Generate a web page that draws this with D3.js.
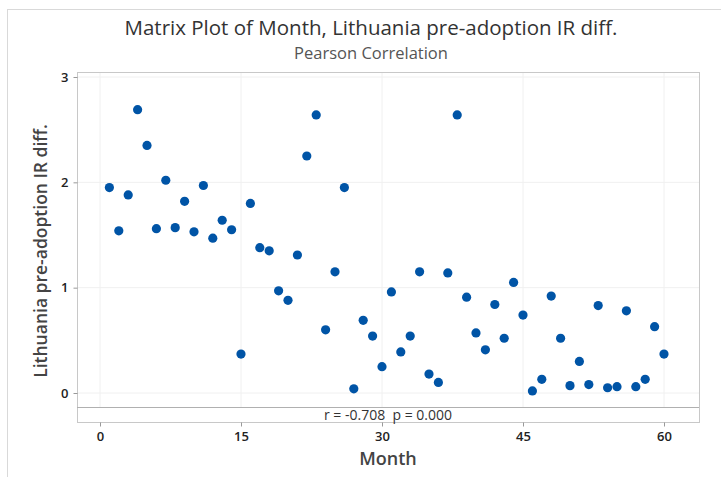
<!DOCTYPE html>
<html>
<head>
<meta charset="utf-8">
<script src="https://cdn.jsdelivr.net/npm/d3@7"></script>
<style>
  body { margin: 0; background: #fff; }
  text { font-family: "Open Sans", "Noto Sans", sans-serif; }
</style>
</head>
<body>
<div id="chart"></div>
<script>
// Data
const months = d3.range(1, 61);
const irDiff = [
  1.95, 1.54, 1.88, 2.69, 2.35, 1.56, 2.02, 1.57, 1.82, 1.53,
  1.97, 1.47, 1.64, 1.55, 0.37, 1.80, 1.38, 1.35, 0.97, 0.88,
  1.31, 2.25, 2.64, 0.60, 1.15, 1.95, 0.04, 0.69, 0.54, 0.25,
  0.96, 0.39, 0.54, 1.15, 0.18, 0.10, 1.14, 2.64, 0.91, 0.57,
  0.41, 0.84, 0.52, 1.05, 0.74, 0.02, 0.13, 0.92, 0.52, 0.07,
  0.30, 0.08, 0.83, 0.05, 0.06, 0.78, 0.06, 0.13, 0.63, 0.37
];
const xTicks = [0, 15, 30, 45, 60];
const yTicks = [0, 1, 2, 3];
const annotation = 'r = -0.708  p = 0.000';

const data = months.map((m, i) => ({ month: m, value: irDiff[i] }));

const W = 721, H = 477;
// plot frame
const frame = { left: 77, right: 699, top: 72, sep: 407, bottom: 422 };

const svg = d3.select('#chart').append('svg')
  .attr('width', W)
  .attr('height', H);

// outer graph border
svg.append('rect')
  .attr('x', 7.5).attr('y', 9.5)
  .attr('width', 740).attr('height', 480)
  .attr('fill', 'none')
  .attr('stroke', '#d9d9d9');

// scales
const x = d3.scaleLinear().domain([0, 60]).range([100, 664]);
const y = d3.scaleLinear().domain([0, 3]).range([393, 77]);

// gridlines
svg.append('g')
  .selectAll('line')
  .data(xTicks)
  .enter().append('line')
  .attr('x1', d => x(d)).attr('x2', d => x(d))
  .attr('y1', frame.top).attr('y2', frame.sep)
  .attr('stroke', '#f0f0f0');

svg.append('g')
  .selectAll('line')
  .data(yTicks)
  .enter().append('line')
  .attr('x1', frame.left).attr('x2', frame.right)
  .attr('y1', d => y(d)).attr('y2', d => y(d))
  .attr('stroke', '#f0f0f0');

// frame + annotation separator
svg.append('rect')
  .attr('x', frame.left + 0.5).attr('y', frame.top + 0.5)
  .attr('width', frame.right - frame.left).attr('height', frame.bottom - frame.top)
  .attr('fill', 'none')
  .attr('stroke', '#c8c8c8');

svg.append('line')
  .attr('x1', frame.left).attr('x2', frame.right)
  .attr('y1', frame.sep + 0.5).attr('y2', frame.sep + 0.5)
  .attr('stroke', '#b0b0b0');

// axes
const xAxis = d3.axisBottom(x).tickValues(xTicks).tickFormat(d3.format('d')).tickSize(4).tickPadding(5);
const yAxis = d3.axisLeft(y).tickValues(yTicks).tickFormat(d3.format('d')).tickSize(4).tickPadding(5);

svg.append('g')
  .attr('class', 'x axis')
  .attr('transform', `translate(0, ${frame.bottom + 0.5})`)
  .call(xAxis)
  .call(g => g.select('.domain').remove())
  .call(g => g.selectAll('line').attr('stroke', '#999'))
  .call(g => g.selectAll('text')
    .attr('fill', '#222').attr('font-size', 13).attr('font-weight', 600)
    .style('font-family', '"Open Sans", sans-serif'));

svg.append('g')
  .attr('class', 'y axis')
  .attr('transform', `translate(${frame.left + 0.5}, 0)`)
  .call(yAxis)
  .call(g => g.select('.domain').remove())
  .call(g => g.selectAll('line').attr('stroke', '#999'))
  .call(g => g.selectAll('text')
    .attr('fill', '#222').attr('font-size', 13).attr('font-weight', 600)
    .style('font-family', '"Open Sans", sans-serif'));

// points
svg.append('g')
  .selectAll('circle')
  .data(data)
  .enter().append('circle')
  .attr('cx', d => x(d.month))
  .attr('cy', d => y(d.value))
  .attr('r', 4.6)
  .attr('fill', '#0054a6');

// annotation
svg.append('text')
  .attr('x', (frame.left + frame.right) / 2)
  .attr('y', 420)
  .attr('text-anchor', 'middle')
  .attr('font-size', 14)
  .attr('fill', '#333')
  .attr('xml:space', 'preserve')
  .text(annotation);

// titles
svg.append('text')
  .attr('x', 371).attr('y', 35)
  .attr('text-anchor', 'middle')
  .attr('font-size', 20.5)
  .attr('fill', '#333')
  .text('Matrix Plot of Month, Lithuania pre-adoption IR diff.');

svg.append('text')
  .attr('x', 371).attr('y', 59)
  .attr('text-anchor', 'middle')
  .attr('font-size', 16.5)
  .attr('fill', '#555')
  .text('Pearson Correlation');

// axis labels
svg.append('text')
  .attr('x', (frame.left + frame.right) / 2)
  .attr('y', 465)
  .attr('text-anchor', 'middle')
  .attr('font-size', 18)
  .attr('font-weight', 600)
  .attr('fill', '#444')
  .text('Month');

svg.append('text')
  .attr('transform', 'rotate(-90)')
  .attr('x', -251)
  .attr('y', 47)
  .attr('text-anchor', 'middle')
  .attr('font-size', 17.5)
  .attr('font-weight', 600)
  .attr('fill', '#444')
  .text('Lithuania pre-adoption IR diff.');
</script>
</body>
</html>
